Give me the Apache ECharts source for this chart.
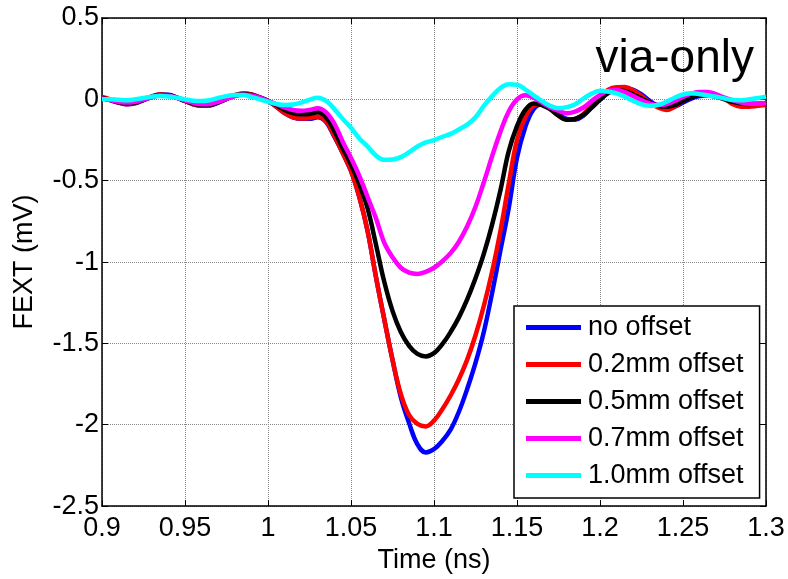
<!DOCTYPE html>
<html>
<head>
<meta charset="utf-8">
<script src="https://cdn.jsdelivr.net/npm/echarts@6/dist/echarts.min.js"></script>
<style>
  html, body { margin: 0; padding: 0; background: #ffffff; }
  #chart { width: 788px; height: 579px; }
</style>
</head>
<body>
<div id="chart"></div>
<script>
// Sample times (ns)
const time = [
  0.900, 0.905, 0.910, 0.915, 0.920, 0.925, 0.930, 0.935, 0.940, 0.945,
  0.950, 0.955, 0.960, 0.965, 0.970, 0.975, 0.980, 0.985, 0.990, 0.995,
  1.000, 1.005, 1.010, 1.015, 1.020, 1.025, 1.030, 1.035, 1.040, 1.045,
  1.050, 1.055, 1.060, 1.065, 1.070, 1.075, 1.080, 1.085, 1.090, 1.095,
  1.100, 1.105, 1.110, 1.115, 1.120, 1.125, 1.130, 1.135, 1.140, 1.145,
  1.150, 1.155, 1.160, 1.165, 1.170, 1.175, 1.180, 1.185, 1.190, 1.195,
  1.200, 1.205, 1.210, 1.215, 1.220, 1.225, 1.230, 1.235, 1.240, 1.245,
  1.250, 1.255, 1.260, 1.265, 1.270, 1.275, 1.280, 1.285, 1.290, 1.295,
  1.300
];

// FEXT (mV) for each via offset
const noOffset = [
  0.010, -0.005, -0.020, -0.030, -0.025, -0.005, 0.015, 0.030, 0.028, 0.012,
  -0.010, -0.030, -0.040, -0.038, -0.020, 0.003, 0.025, 0.036, 0.030, 0.012,
  -0.010, -0.045, -0.085, -0.110, -0.120, -0.120, -0.110, -0.140, -0.230, -0.330,
  -0.440, -0.600, -0.810, -1.090, -1.350, -1.600, -1.830, -1.990, -2.120, -2.170,
  -2.150, -2.100, -2.030, -1.920, -1.780, -1.620, -1.430, -1.190, -0.930, -0.670,
  -0.360, -0.170, -0.060, -0.030, -0.050, -0.090, -0.120, -0.125, -0.100, -0.050,
  0.000, 0.040, 0.063, 0.070, 0.058, 0.030, -0.010, -0.040, -0.055, -0.045,
  -0.020, 0.005, 0.020, 0.027, 0.022, 0.005, -0.015, -0.030, -0.035, -0.030,
  -0.025
];
const offset02 = [
  0.015, 0.000, -0.020, -0.030, -0.022, -0.002, 0.018, 0.030, 0.026, 0.010,
  -0.010, -0.030, -0.040, -0.036, -0.018, 0.004, 0.026, 0.036, 0.030, 0.012,
  -0.008, -0.045, -0.085, -0.110, -0.118, -0.115, -0.105, -0.135, -0.225, -0.330,
  -0.440, -0.600, -0.810, -1.090, -1.350, -1.600, -1.810, -1.940, -1.995, -2.010,
  -1.975, -1.905, -1.820, -1.720, -1.600, -1.450, -1.270, -1.060, -0.810, -0.520,
  -0.250, -0.110, -0.040, -0.030, -0.060, -0.100, -0.125, -0.120, -0.090, -0.040,
  0.015, 0.060, 0.075, 0.076, 0.055, 0.020, -0.020, -0.050, -0.065, -0.045,
  -0.010, 0.015, 0.033, 0.037, 0.028, 0.005, -0.030, -0.045, -0.045, -0.040,
  -0.035
];
const offset05 = [
  0.008, -0.005, -0.018, -0.025, -0.020, -0.003, 0.015, 0.027, 0.025, 0.010,
  -0.010, -0.027, -0.035, -0.033, -0.018, 0.003, 0.022, 0.032, 0.027, 0.010,
  -0.010, -0.035, -0.065, -0.085, -0.092, -0.090, -0.080, -0.110, -0.195, -0.300,
  -0.400, -0.520, -0.670, -0.890, -1.120, -1.300, -1.430, -1.515, -1.565, -1.580,
  -1.560, -1.505, -1.430, -1.340, -1.230, -1.100, -0.950, -0.770, -0.560, -0.320,
  -0.165, -0.065, -0.025, -0.035, -0.060, -0.100, -0.125, -0.120, -0.095, -0.050,
  -0.003, 0.040, 0.056, 0.050, 0.030, 0.005, -0.020, -0.040, -0.045, -0.035,
  -0.010, 0.012, 0.025, 0.025, 0.015, 0.000, -0.015, -0.025, -0.028, -0.027,
  -0.025
];
const offset07 = [
  0.005, -0.005, -0.015, -0.020, -0.015, -0.002, 0.013, 0.024, 0.022, 0.010,
  -0.007, -0.022, -0.030, -0.028, -0.015, 0.003, 0.020, 0.028, 0.024, 0.010,
  -0.010, -0.030, -0.050, -0.065, -0.070, -0.065, -0.055, -0.080, -0.150, -0.260,
  -0.360, -0.470, -0.600, -0.730, -0.880, -0.970, -1.035, -1.065, -1.073, -1.060,
  -1.035, -0.995, -0.945, -0.875, -0.780, -0.660, -0.510, -0.350, -0.200, -0.075,
  0.000, 0.025, 0.010, -0.020, -0.050, -0.070, -0.085, -0.075, -0.050, -0.010,
  0.027, 0.052, 0.058, 0.045, 0.020, -0.005, -0.025, -0.035, -0.030, -0.010,
  0.015, 0.035, 0.045, 0.045, 0.030, 0.010, -0.005, -0.020, -0.027, -0.027,
  -0.022
];
const offset10 = [
  0.000, 0.000, -0.003, -0.005, 0.000, 0.008, 0.016, 0.020, 0.018, 0.010,
  0.000, -0.008, -0.010, -0.005, 0.008, 0.020, 0.027, 0.026, 0.015, 0.000,
  -0.015, -0.028, -0.035, -0.032, -0.020, -0.003, 0.010, -0.010, -0.060, -0.120,
  -0.175, -0.240, -0.290, -0.345, -0.372, -0.370, -0.355, -0.325, -0.290, -0.265,
  -0.250, -0.230, -0.212, -0.185, -0.155, -0.110, -0.040, 0.020, 0.070, 0.093,
  0.090, 0.060, 0.025, -0.010, -0.040, -0.055, -0.048, -0.030, 0.005, 0.035,
  0.053, 0.048, 0.037, 0.015, -0.010, -0.030, -0.040, -0.035, -0.015, 0.010,
  0.030, 0.037, 0.032, 0.024, 0.016, 0.005, -0.004, -0.005, 0.000, 0.008,
  0.016
];

const seriesNames = ['no offset', '0.2mm offset', '0.5mm offset', '0.7mm offset', '1.0mm offset'];
const seriesValues = [noOffset, offset02, offset05, offset07, offset10];
const seriesColors = ['#0000ff', '#ff0000', '#000000', '#ff00ff', '#00ffff'];

// Axis ranges and tick spacing
const xRange = [0.9, 1.3], xStep = 0.05;
const yRange = [-2.5, 0.5], yStep = 0.5;

const FONT = '"Liberation Sans", Arial, sans-serif';

const chart = echarts.init(document.getElementById('chart'), null, { renderer: 'canvas' });

const baseAxisLine = { show: true, onZero: false, lineStyle: { color: '#000', width: 1.5 } };
const baseTick = { show: true, inside: true, length: 6, lineStyle: { color: '#000', width: 1 } };

chart.setOption({
  animation: false,
  backgroundColor: '#ffffff',
  title: {
    text: 'via-only',
    right: 34,
    top: 36,
    padding: 0,
    textStyle: { fontFamily: FONT, fontSize: 46, fontWeight: 'normal', color: '#000' }
  },
  grid: { left: 102, top: 18, width: 664, height: 489, containLabel: false },
  legend: {
    orient: 'vertical',
    left: 514,
    top: 306,
    padding: [8, 16, 9, 12],
    itemGap: 10,
    itemWidth: 55,
    itemHeight: 5,
    icon: 'rect',
    backgroundColor: '#ffffff',
    borderColor: '#000000',
    borderWidth: 1.5,
    borderRadius: 0,
    textStyle: { fontFamily: FONT, fontSize: 27, color: '#000', padding: [0, 0, 0, 2] },
    data: seriesNames
  },
  xAxis: [
    {
      type: 'value', min: xRange[0], max: xRange[1], interval: xStep,
      position: 'bottom',
      name: 'Time (ns)', nameLocation: 'middle', nameGap: 40,
      nameTextStyle: { fontFamily: FONT, fontSize: 27, color: '#000' },
      axisLine: baseAxisLine, axisTick: baseTick,
      axisLabel: { fontFamily: FONT, fontSize: 27, color: '#000', margin: 9 },
      splitLine: { show: true, lineStyle: { color: '#888', type: 'dotted', width: 1 } }
    },
    {
      type: 'value', min: xRange[0], max: xRange[1], interval: xStep,
      position: 'top',
      axisLine: baseAxisLine, axisTick: baseTick,
      axisLabel: { show: false }, splitLine: { show: false }
    }
  ],
  yAxis: [
    {
      type: 'value', min: yRange[0], max: yRange[1], interval: yStep,
      position: 'left',
      name: 'FEXT (mV)', nameLocation: 'middle', nameGap: 64, nameRotate: 90,
      nameTextStyle: { fontFamily: FONT, fontSize: 27, color: '#000' },
      axisLine: baseAxisLine, axisTick: baseTick,
      axisLabel: { fontFamily: FONT, fontSize: 27, color: '#000', margin: 3 },
      splitLine: { show: true, lineStyle: { color: '#888', type: 'dotted', width: 1 } }
    },
    {
      type: 'value', min: yRange[0], max: yRange[1], interval: yStep,
      position: 'right',
      axisLine: baseAxisLine, axisTick: baseTick,
      axisLabel: { show: false }, splitLine: { show: false }
    }
  ],
  series: seriesNames.map((name, i) => ({
    name: name,
    type: 'line',
    xAxisIndex: 0,
    yAxisIndex: 0,
    data: time.map((t, k) => [t, seriesValues[i][k]]),
    symbol: 'none',
    smooth: 0.4,
    clip: true,
    color: seriesColors[i],
    lineStyle: { color: seriesColors[i], width: 4.5 }
  }))
});
</script>
</body>
</html>
